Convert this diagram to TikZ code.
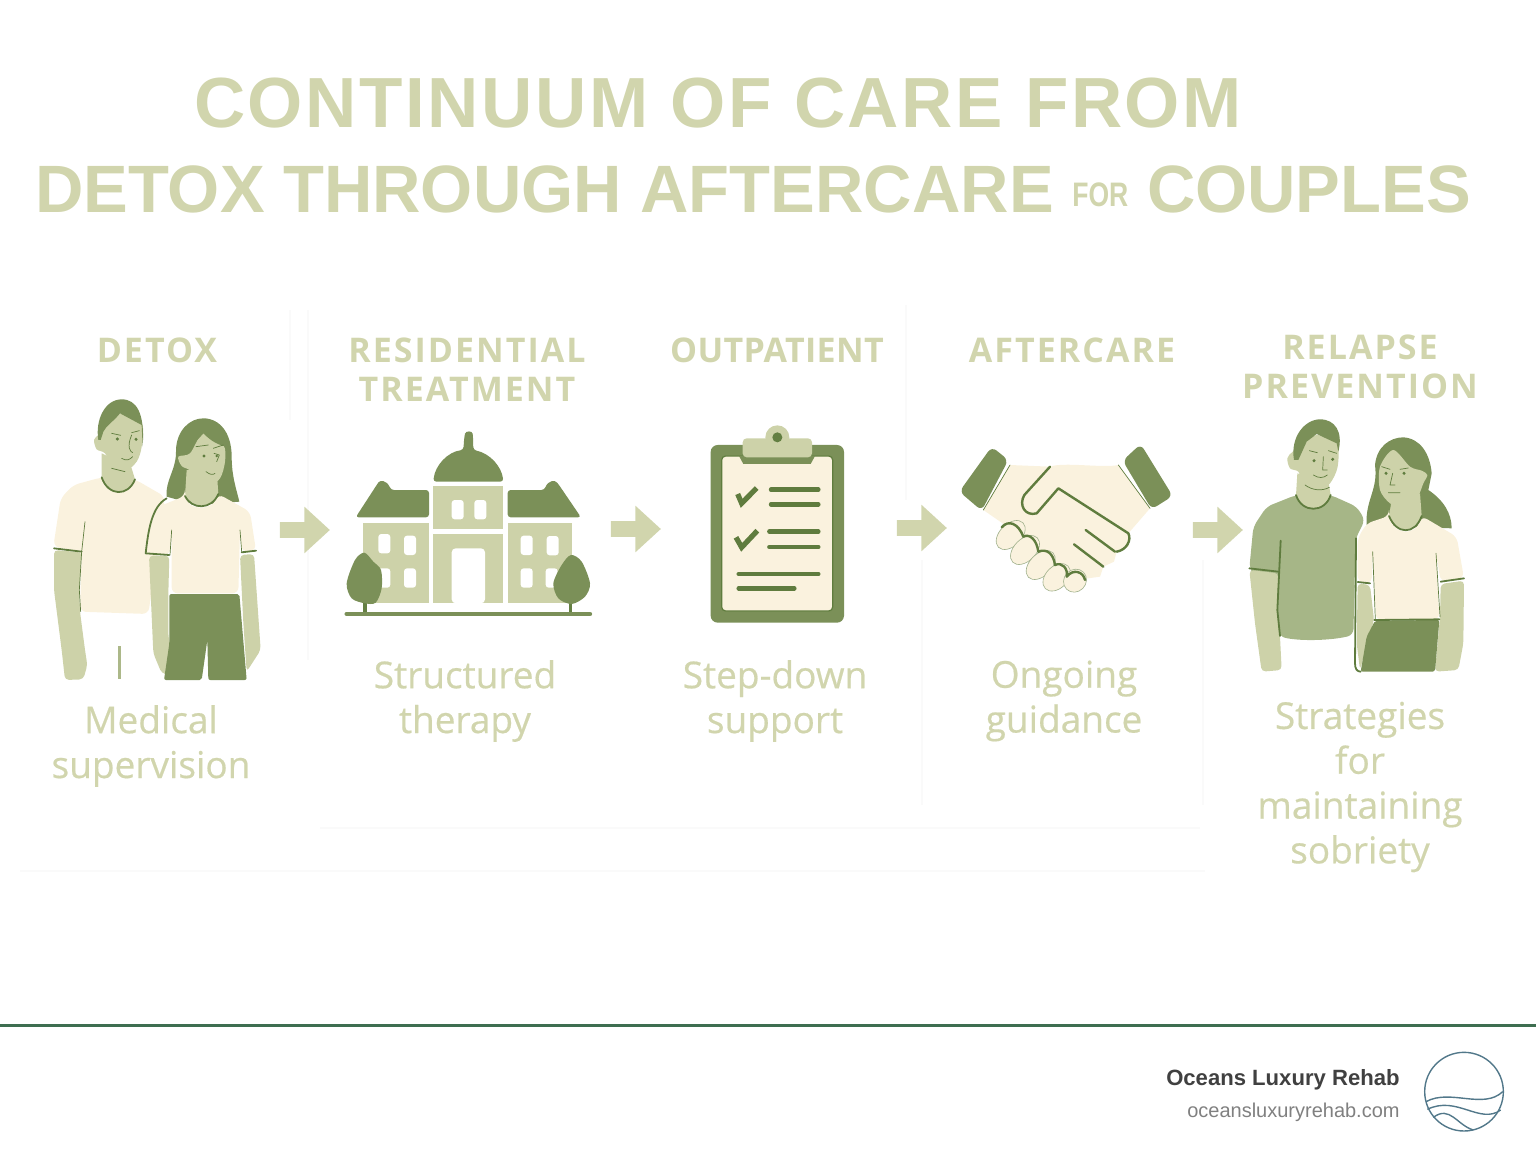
\documentclass[tikz,border=0pt]{standalone}
\usepackage{fontspec}
\usepackage{tikz}
\usetikzlibrary{shapes.arrows, positioning}
\setmainfont[FakeBold=0.5]{Open Sans}
\newfontfamily\titlefont[LetterSpace=3.6]{Liberation Sans}
\newfontfamily\titlefonttwo{Liberation Sans}
\newfontfamily\narrowfont[FakeStretch=0.78]{Liberation Sans}
\newfontfamily\headfont[LetterSpace=6]{Open Sans}
\newfontfamily\tightheadfont[LetterSpace=1]{Open Sans}
\newfontfamily\brandfont{Liberation Sans}
\definecolor{paleolive}{HTML}{D1D5AD}
\definecolor{darkolive}{HTML}{7B9058}
\definecolor{inkgreen}{HTML}{5F7C3E}
\definecolor{sage}{HTML}{CDD2A9}
\definecolor{midsage}{HTML}{A6B687}
\definecolor{cream}{HTML}{FAF2DE}
\definecolor{footgreen}{HTML}{3E6E50}
\definecolor{logoblue}{HTML}{52788A}
\tikzstyle{titleline} = [text=paleolive, font=\titlefont\bfseries\fontsize{35.5}{40}\selectfont, inner sep=0pt]
\tikzstyle{titlelinetwo} = [text=paleolive, font=\titlefonttwo\bfseries\fontsize{33.5}{40}\selectfont, inner sep=0pt]
\tikzstyle{stagehead} = [text=paleolive, align=center, inner sep=0pt, font=\headfont\bfseries\fontsize{17}{19.5}\selectfont]
\tikzstyle{stagetext} = [text=paleolive, align=center, inner sep=0pt, font=\fontsize{18.5}{22.4}\selectfont]
\tikzstyle{arrow} = [shape=single arrow, fill=paleolive, minimum height=25pt, minimum width=23pt, inner sep=3.75pt, single arrow head extend=7.75pt, single arrow tip angle=85, single arrow head indent=0pt]
\tikzstyle{ghost} = [draw=black!2, line width=0.6pt]
\tikzstyle{detail} = [x=0.16667pt, y=-0.16667pt]
\tikzstyle{ink} = [draw=inkgreen, line width=0.9pt, line cap=round, line join=round]
\tikzstyle{thin ink} = [draw=inkgreen, line width=0.35pt, line cap=round, line join=round]
\tikzstyle{listbar} = [draw=inkgreen, line width=2.2pt, line cap=round]

\begin{document}
\begin{tikzpicture}[x=0.5pt, y=-0.5pt]
\useasboundingbox (0,0) rectangle (1536,1154);

% Title
\node (titleone) [titleline] at (718,103) {CONTINUUM OF CARE FROM};
\node (titletwo) [titlelinetwo] at (753,189) {DETOX THROUGH AFTERCARE \raisebox{3pt}{\narrowfont\bfseries\fontsize{17}{20}\selectfont FOR} COUPLES};

% Faint seams
\draw [ghost] (320,828) -- (1200,828);
\draw [ghost] (20,871) -- (1205,871);
\draw [ghost] (290,310) -- (290,420);
\draw [ghost] (308,310) -- (308,660);
\draw [ghost] (906,305) -- (906,500);
\draw [ghost] (922,560) -- (922,805);
\draw [ghost] (1203,560) -- (1203,805);

% Stage heads
\node (detoxhead) [stagehead] at (157,350) {DETOX};
\node (residentialhead) [stagehead] at (467,370) {RESIDENTIAL\\TREATMENT};
\node (outpatienthead) [stagehead, font=\tightheadfont\bfseries\fontsize{17}{19.5}\selectfont] at (777,350) {OUTPATIENT};
\node (aftercarehead) [stagehead] at (1072,350) {AFTERCARE};
\node (relapsehead) [stagehead] at (1360,367) {RELAPSE\\PREVENTION};

% Stage texts
\node (detoxtext) [stagetext] at (151,746) {Medical\\supervision};
\node (residentialtext) [stagetext] at (465,701) {Structured\\therapy};
\node (outpatienttext) [stagetext] at (775,701) {Step-down\\support};
\node (aftercaretext) [stagetext] at (1064,701) {Ongoing\\guidance};
\node (relapsetext) [stagetext] at (1360,787) {Strategies\\for\\maintaining\\sobriety};

% Arrows
\node (arrowone) [arrow] at (300.5,530) {};
\node (arrowtwo) [arrow] at (631.5,529) {};
\node (arrowthree) [arrow] at (917.5,528) {};
\node (arrowfour) [arrow] at (1213.5,530) {};

% Couple, first stage
\begin{scope}[shift={(30,390)}, detail]
\fill [cream, rounded corners=3pt] (215,262) -- (130,285) -- (92,325) -- (70,470) -- (155,485) -- (150,665) -- (355,672) -- (405,320) -- (315,268) -- cycle;
\fill [sage, rounded corners=2pt] (72,480) -- (155,487) -- (148,600) -- (150,665) -- (165,780) -- (172,825) -- (160,868) -- (105,870) -- (95,780) -- (72,600) -- cycle;
\draw [ink] (72,475) -- (155,485);
\draw [thin ink] (165,395) -- (155,485) -- (148,600) -- (152,665);
\draw [draw=sage!70!inkgreen, line width=1.6pt] (268,768) -- (268,868);
\fill [sage] (215,190) -- (215,265) .. controls (235,320) and (295,320) .. (315,268) -- (305,235) -- cycle;
\fill [sage] plot [smooth cycle] coordinates {(205,135) (192,150) (200,178) (225,190) (250,235) (285,245) (320,215) (335,170) (335,100) (270,70) (225,110)};
\fill [darkolive] (205,150) .. controls (195,90) and (225,28) .. (275,28) .. controls (320,28) and (345,70) .. (338,170) -- (335,105) -- (270,70) .. controls (245,100) and (230,105) .. (220,125) -- (212,150) -- cycle;
\draw [ink] (215,262) .. controls (235,320) and (295,320) .. (315,268);
\draw [thin ink] (245,130) -- (272,136) (305,128) -- (328,122) (305,135) .. controls (290,170) and (300,185) .. (308,188) (275,205) .. controls (290,215) and (300,208) .. (308,200) (245,235) -- (285,245);
\fill [inkgreen] (262,147) circle (5);
\fill [inkgreen] (318,148) circle (5);
% woman
\fill [darkolive] (410,320) .. controls (405,270) and (440,240) .. (438,180) .. controls (440,120) and (480,85) .. (520,85) .. controls (570,85) and (605,130) .. (605,200) .. controls (605,260) and (620,300) .. (628,335) -- (500,345) -- cycle;
\fill [sage] (470,240) -- (465,318) .. controls (485,360) and (545,360) .. (565,312) -- (560,240) -- cycle;
\fill [sage] plot [smooth cycle] coordinates {(445,200) (455,228) (478,240) (495,265) (535,288) (570,265) (585,215) (580,165) (520,130) (480,190)};
\fill [darkolive] (438,195) .. controls (470,175) and (500,155) .. (520,130) .. controls (545,155) and (565,165) .. (590,170) -- (590,130) -- (500,110) -- cycle;
\fill [cream, rounded corners=3pt] (465,318) -- (385,350) -- (352,490) -- (420,495) -- (425,420) -- (425,610) -- (625,610) -- (630,420) -- (635,485) -- (678,482) -- (660,365) -- (565,312) .. controls (545,360) and (485,360) .. (465,318) -- cycle;
\fill [sage, rounded corners=2pt] (357,497) -- (418,497) -- (415,610) -- (415,740) -- (432,810) -- (418,855) -- (395,850) -- (370,790) -- cycle;
\fill [sage, rounded corners=2pt] (630,495) -- (672,492) -- (692,780) -- (650,845) -- (640,700) -- cycle;
\fill [darkolive, rounded corners=1pt] (418,612) -- (628,612) -- (650,870) -- (535,870) -- (532,750) -- (515,870) -- (402,870) -- (418,760) -- cycle;
\draw [ink] (465,318) .. controls (485,360) and (545,360) .. (565,312);
\draw [ink] (410,325) .. controls (365,350) and (355,420) .. (347,490) -- (418,495);
\draw [ink] (635,487) -- (678,482);
\draw [thin ink] (425,420) -- (420,495) (630,420) -- (635,485) (498,170) -- (535,165) (550,175) -- (580,165) (528,245) .. controls (540,255) and (550,255) .. (555,250) (552,190) -- (568,195) -- (560,215);
\fill [inkgreen] (522,198) circle (5);
\fill [inkgreen] (560,198) circle (4);
\end{scope}

% Building, second stage
\begin{scope}[shift={(335,420)}, detail]
\fill [darkolive, rounded corners=1.5pt] (295,185) .. controls (300,135) and (340,95) .. (385,90) -- (388,50) .. controls (392,32) and (412,32) .. (414,50) -- (415,90) .. controls (465,100) and (500,140) .. (505,185) -- cycle;
\fill [darkolive, rounded corners=1.5pt] (62,292) -- (125,195) .. controls (135,180) and (155,180) .. (168,210) -- (282,210) -- (282,292) -- cycle;
\fill [darkolive, rounded corners=1.5pt] (518,210) -- (628,210) .. controls (640,180) and (660,180) .. (672,195) -- (738,292) -- (518,292) -- cycle;
\fill [sage] (295,198) rectangle (503,326);
\fill [sage] (85,310) rectangle (282,550);
\fill [sage] (518,310) rectangle (710,550);
\fill [sage] (295,343) rectangle (505,550);
\fill [white, rounded corners=2pt] (350,550) -- (350,385) -- (450,385) -- (450,550) -- cycle;
\foreach \winx/\winy in {350/240, 418/240, 130/342, 207/347, 557/347, 635/348, 207/445, 557/445, 130/445, 632/445}
  \fill [white, rounded corners=1.5pt] (\winx,\winy) rectangle +(36,58);
\fill [inkgreen!80!darkolive] (85,540) rectangle (96,580);
\fill [inkgreen!80!darkolive] (702,540) rectangle (712,580);
\fill [darkolive] plot [smooth cycle] coordinates {(88,398) (60,420) (35,490) (50,535) (90,550) (122,548) (140,505) (138,450) (115,425)};
\fill [darkolive] plot [smooth cycle] coordinates {(708,405) (680,435) (655,490) (670,535) (710,552) (750,530) (765,490) (740,425)};
\draw [draw=darkolive, line width=2.2pt, line cap=round] (35,582) -- (765,582);
\end{scope}

% Clipboard, third stage
\begin{scope}[shift={(690,420)}, detail]
\fill [darkolive, rounded corners=3.5pt] (62,75) rectangle (462,608);
\filldraw [fill=cream, draw=inkgreen, line width=0.6pt, rounded corners=2pt] (95,108) rectangle (428,573);
\fill [darkolive] (147,108) -- (160,132) -- (362,132) -- (375,108) -- cycle;
\fill [sage] (262,52) circle (36);
\fill [sage, rounded corners=2pt] (158,55) rectangle (366,112);
\fill [inkgreen!85!darkolive] (262,52) circle (15);
\draw [draw=inkgreen, line width=2.6pt, line join=miter] (143,222) -- (155,250) -- (200,204);
\draw [draw=inkgreen, line width=2.6pt, line join=miter] (138,352) -- (155,382) -- (202,332);
\draw [listbar] (243,209) -- (385,209);
\draw [listbar] (243,253) -- (385,253);
\draw [listbar] (238,335) -- (385,335);
\draw [listbar] (238,381) -- (385,381);
\draw [listbar] (146,462) -- (385,462);
\draw [listbar] (146,505) -- (313,505);

% Handshake, fourth stage
\fill [darkolive, rounded corners=3pt] (905,80) -- (955,120) -- (875,272) -- (808,215) -- cycle;
\fill [darkolive, rounded corners=3pt] (1352,72) -- (1448,228) -- (1385,268) -- (1298,122) -- cycle;
\fill [cream] (960,135) -- (1080,140) .. controls (1120,125) and (1240,145) .. (1285,135) -- (1380,265) -- (1315,340) -- (1315,380) -- (1280,395) -- (1272,425) -- (1240,440) -- (1230,470) -- (1195,475) -- (1140,470) -- (1100,430) -- (1050,390) -- (1000,355) -- (945,315) -- (880,270) -- cycle;
\foreach \fingx/\fingy/\fingl in {962/345/52, 1005/390/52, 1052/435/52, 1100/472/48, 1155/482/36}
  \filldraw [fill=cream, draw=inkgreen!60, line width=0.3pt, rotate around={45:(\fingx,\fingy)}] (\fingx,\fingy) ellipse [x radius=\fingl, y radius=33];
\draw [thin ink] (1285,135) -- (1380,265) (960,135) -- (880,270);
\draw [ink, line width=1.2pt] (1080,140) -- (1003,225) .. controls (985,255) and (1005,290) .. (1040,280) -- (1105,205) -- (1315,340) .. controls (1325,360) and (1310,390) .. (1280,395);
\draw [ink, line width=1.2pt] (1187,330) -- (1275,395);
\draw [ink, line width=1.2pt] (1152,373) -- (1240,440);
\draw [ink, line width=1.2pt] (935,322) .. controls (955,298) and (985,310) .. (1000,350) .. controls (1020,340) and (1040,360) .. (1045,395) .. controls (1070,385) and (1090,400) .. (1095,435) .. controls (1115,425) and (1135,445) .. (1130,470) .. controls (1150,445) and (1180,455) .. (1185,480);
\end{scope}

% Couple, last stage
\begin{scope}[shift={(1190,410)}, detail]
\fill [midsage, rounded corners=3pt] (318,255) -- (230,290) -- (190,350) -- (178,475) -- (262,600) -- (268,680) .. controls (340,695) and (430,690) .. (490,675) -- (497,385) -- (525,330) -- (500,290) -- (422,255) -- cycle;
\fill [sage, rounded corners=2pt] (178,480) -- (265,490) -- (260,600) -- (270,680) -- (275,780) -- (215,785) -- (195,640) -- cycle;
\draw [ink] (178,475) -- (265,485);
\draw [ink] (272,392) -- (262,600) -- (270,678);
\fill [sage] (322,190) -- (318,255) .. controls (335,310) and (405,310) .. (422,255) -- (416,220) -- cycle;
\fill [sage] plot [smooth cycle] coordinates {(308,125) (292,145) (300,175) (325,185) (340,220) (385,240) (420,220) (443,170) (440,100) (380,75) (345,100)};
\fill [darkolive] (312,150) .. controls (300,80) and (345,28) .. (390,28) .. controls (435,28) and (460,65) .. (445,125) -- (440,100) -- (380,72) -- (350,95) -- (325,150) -- cycle;
\draw [ink] (318,255) .. controls (335,310) and (405,310) .. (422,255);
\draw [thin ink] (358,122) -- (382,128) (415,122) -- (440,130) (400,140) -- (398,180) -- (412,180) (370,195) .. controls (385,205) and (400,205) .. (412,195) (345,225) .. controls (365,240) and (395,245) .. (418,232);
\fill [inkgreen] (372,152) circle (5);
\fill [inkgreen] (428,148) circle (5);
% woman
\fill [darkolive] (530,345) .. controls (525,270) and (565,240) .. (555,165) .. controls (560,110) and (600,82) .. (640,82) .. controls (690,85) and (720,130) .. (725,190) -- (715,240) .. controls (760,270) and (785,310) .. (785,355) -- cycle;
\fill [sage] (605,270) -- (597,318) .. controls (620,375) and (675,375) .. (695,318) -- (690,250) -- cycle;
\fill [sage] plot [smooth cycle] coordinates {(610,120) (570,170) (570,240) (600,280) (635,290) (680,265) (700,220) (712,195) (695,182) (660,170)};
\fill [cream, rounded corners=3pt] (597,318) -- (530,340) -- (503,385) -- (503,515) -- (545,520) -- (548,425) -- (558,630) -- (748,628) -- (738,430) -- (752,515) -- (822,505) -- (800,380) -- (695,318) .. controls (675,375) and (620,375) .. (597,318) -- cycle;
\fill [sage, rounded corners=2pt] (503,520) -- (540,525) -- (552,630) -- (540,670) -- (510,780) -- (500,700) -- cycle;
\fill [sage, rounded corners=2pt] (752,522) -- (822,512) -- (820,700) -- (805,780) -- (735,785) -- (750,620) -- cycle;
\fill [darkolive, rounded corners=1pt] (555,632) -- (748,630) -- (735,785) -- (512,785) -- (530,680) -- cycle;
\draw [ink] (597,318) .. controls (620,375) and (675,375) .. (695,318);
\draw [ink] (498,385) -- (495,760) .. controls (495,775) and (500,785) .. (512,785);
\draw [ink] (503,516) -- (540,520) (752,515) -- (822,505);
\draw [ink] (553,630) -- (748,628);
\draw [thin ink] (548,425) -- (556,630) (738,430) -- (750,620) (575,170) -- (600,178) (630,178) -- (655,174) (608,190) -- (600,225) -- (615,225) (595,248) -- (630,248);
\fill [inkgreen] (588,190) circle (5);
\fill [inkgreen] (642,190) circle (5);
\end{scope}

% Footer
\draw [draw=footgreen, line width=1.5pt] (0,1025) -- (1536,1025);
\node (brandname) [anchor=east, inner sep=0pt, text=black!75, font=\brandfont\bfseries\fontsize{11.05}{14}\selectfont] at (1400,1080) {Oceans Luxury Rehab};
\node (brandurl) [inner sep=0pt, text=black!50, font=\brandfont\fontsize{10}{12}\selectfont, below=6pt of brandname.south east, anchor=north east] {oceansluxuryrehab.com};
\begin{scope}[shift={(1140,1030)}, detail]
\draw [draw=logoblue, line width=0.7pt] (972,185) circle (118);
\draw [draw=logoblue, line width=0.7pt] (858,215) .. controls (930,175) and (1030,240) .. (1088,185);
\draw [draw=logoblue, line width=0.7pt] (862,238) .. controls (950,195) and (1020,285) .. (1082,240);
\draw [draw=logoblue, line width=0.7pt] (880,262) .. controls (930,225) and (950,285) .. (1000,300);
\end{scope}
\end{tikzpicture}
\end{document}
